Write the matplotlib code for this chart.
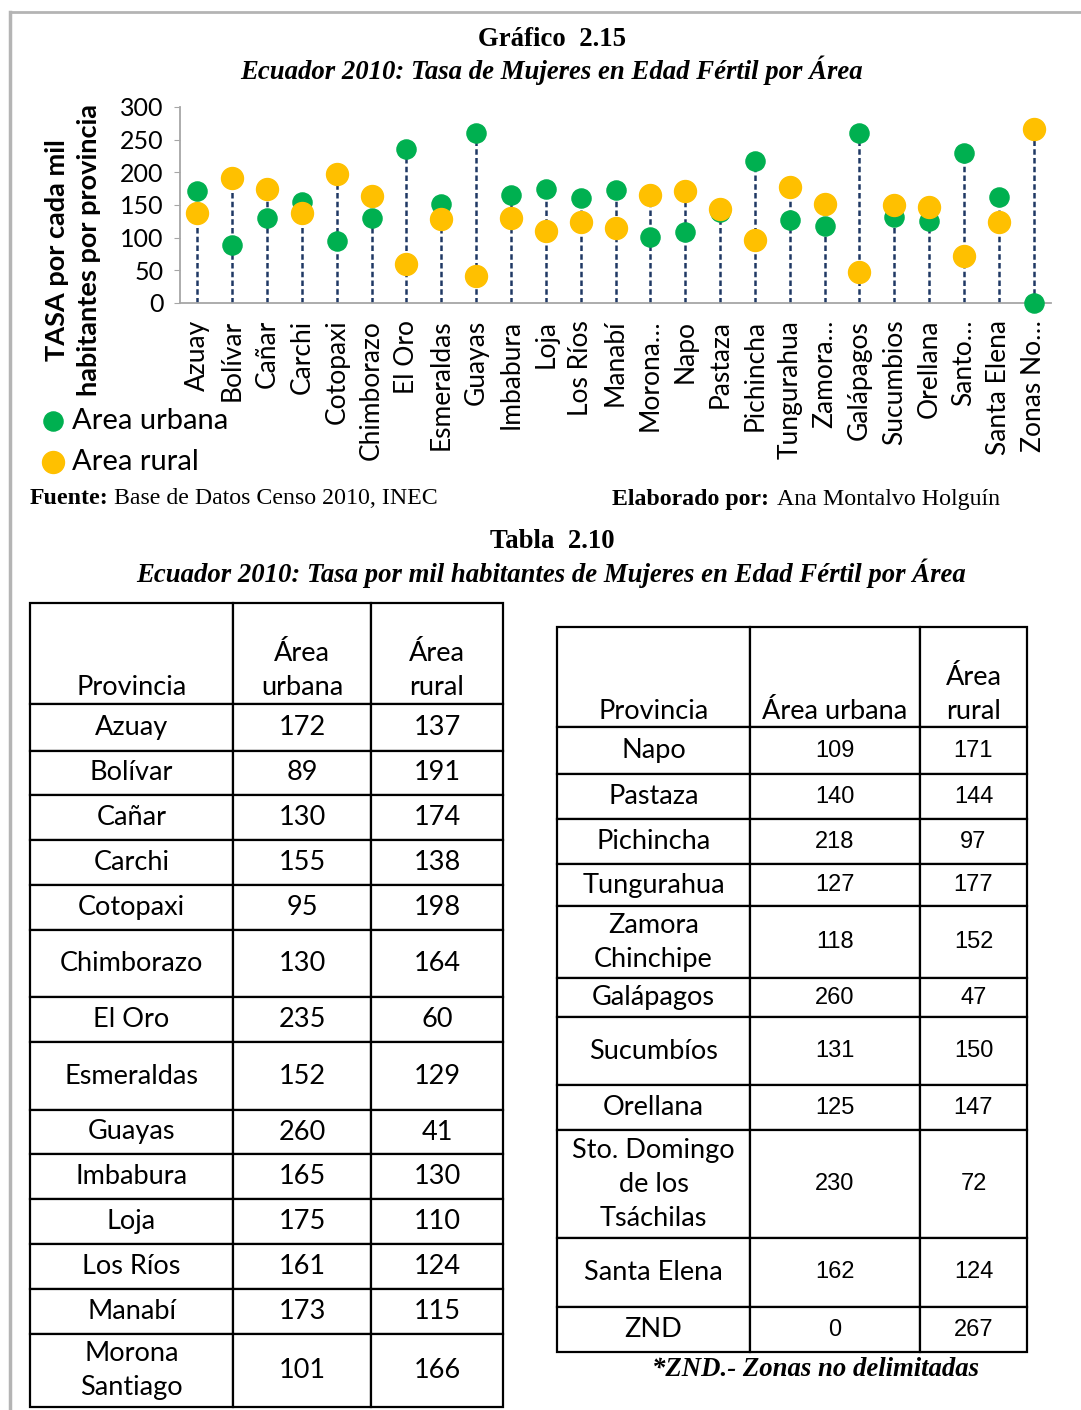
import matplotlib.pyplot as plt
from matplotlib.lines import Line2D

W, H = 1081, 1410

# datos (tasa por mil habitantes)
etiquetas = ["Azuay", "Bolívar", "Cañar", "Carchi", "Cotopaxi", "Chimborazo",
             "El Oro", "Esmeraldas", "Guayas", "Imbabura", "Loja", "Los Ríos",
             "Manabí", "Morona…", "Napo", "Pastaza", "Pichincha", "Tungurahua",
             "Zamora…", "Galápagos", "Sucumbios", "Orellana", "Santo…",
             "Santa Elena", "Zonas No…"]
urbana = [172, 89, 130, 155, 95, 130, 235, 152, 260, 165, 175, 161, 173,
          101, 109, 140, 218, 127, 118, 260, 131, 125, 230, 162, 0]
rural = [137, 191, 174, 138, 198, 164, 60, 129, 41, 130, 110, 124, 115,
         166, 171, 144, 97, 177, 152, 47, 150, 147, 72, 124, 267]
nombres_tabla = ["Azuay", "Bolívar", "Cañar", "Carchi", "Cotopaxi", "Chimborazo",
                 "El Oro", "Esmeraldas", "Guayas", "Imbabura", "Loja", "Los Ríos",
                 "Manabí", "Morona\nSantiago", "Napo", "Pastaza", "Pichincha",
                 "Tungurahua", "Zamora\nChinchipe", "Galápagos", "Sucumbíos",
                 "Orellana", "Sto. Domingo\nde los\nTsáchilas", "Santa Elena", "ZND"]

VERDE = "#00B050"
AMARILLO = "#FFC000"
GRIS = "#A6A6A6"
SANS = "Lato"
SERIF = "Liberation Serif"


def fx(x):
    return x / W


def fy(y):
    return 1 - y / H


fig = plt.figure(figsize=(W / 100, H / 100), dpi=100)

# marco gris de la pagina
fig.add_artist(Line2D([fx(10), 1], [fy(12), fy(12)], color="#B4B4B4", lw=2))
fig.add_artist(Line2D([fx(10), fx(10)], [fy(12), 0], color="#B4B4B4", lw=2.5))

# -----------------------------
# Grafico 2.15
# -----------------------------
ax = fig.add_axes([fx(180), fy(303), (1051 - 180) / W, 196 / H])
x = list(range(len(etiquetas)))
tope = [max(u, r) for u, r in zip(urbana, rural)]
ax.vlines(x, 0, tope, colors="#1F3864", linestyles=(0, (2.2, 1.3)), lw=1.8, zorder=1)
sc_u = ax.scatter(x, urbana, s=190, color=VERDE, zorder=3, clip_on=False, label="Area urbana")
sc_r = ax.scatter(x, rural, s=250, color=AMARILLO, zorder=4, clip_on=False, label="Area rural")

ax.set_xlim(-0.5, len(etiquetas) - 0.5)
ax.set_ylim(0, 300)
ax.set_yticks(range(0, 301, 50))
ax.set_xticks(x)
ax.set_xticklabels(etiquetas, rotation=90, fontsize=19, family=SANS, va="top")
for lab in ax.get_yticklabels():
    lab.set_fontsize(18)
    lab.set_family(SANS)
ax.tick_params(axis="y", length=4, color=GRIS, pad=8)
ax.tick_params(axis="x", length=0, pad=12)
for s in ["top", "right"]:
    ax.spines[s].set_visible(False)
for s in ["left", "bottom"]:
    ax.spines[s].set_color(GRIS)
    ax.spines[s].set_linewidth(1.3)

fig.text(fx(73), fy(250), "TASA por cada mil\nhabitantes por provincia", rotation=90,
         ha="center", va="center", multialignment="center", fontsize=19.5,
         fontweight="bold", family=SANS, linespacing=1.4)

fig.legend(handles=[sc_u, sc_r], loc="upper left", bbox_to_anchor=(fx(44), fy(408)),
           frameon=False, prop={"family": SANS, "size": 21}, handlelength=0.6,
           handletextpad=0.35, labelspacing=0.5, borderpad=0, borderaxespad=0,
           scatterpoints=1)

fig.text(0.511, fy(40), "Gráfico  2.15", ha="center", va="center",
         family=SERIF, fontweight="bold", fontsize=19.3)
fig.text(0.51, fy(70), "Ecuador 2010: Tasa de Mujeres en Edad Fértil por Área", ha="center",
         va="center", family=SERIF, fontweight="bold", style="italic", fontsize=19.3)

fig.text(fx(30), fy(499), "Fuente:", ha="left", va="center", family=SERIF,
         fontweight="bold", fontsize=17.2)
fig.text(fx(114), fy(499), "Base de Datos Censo 2010, INEC", ha="left", va="center",
         family=SERIF, fontsize=17.2)
fig.text(fx(612), fy(499), "Elaborado por:", ha="left", va="center", family=SERIF,
         fontweight="bold", fontsize=17.2)
fig.text(fx(777), fy(499), "Ana Montalvo Holguín", ha="left", va="center",
         family=SERIF, fontsize=17.2)

# -----------------------------
# Tabla 2.10
# -----------------------------
fig.text(0.511, fy(541), "Tabla  2.10", ha="center", va="center",
         family=SERIF, fontweight="bold", fontsize=19.3)
fig.text(0.51, fy(573), "Ecuador 2010: Tasa por mil habitantes de Mujeres en Edad Fértil por Área",
         ha="center", va="center", family=SERIF, fontweight="bold", style="italic", fontsize=19.3)

tab_ax = fig.add_axes([0, 0, 1, 1])
tab_ax.set_axis_off()
tab_ax.set_xlim(0, 1)
tab_ax.set_ylim(0, 1)


def tabla(nombres, urb, rur, header, col_w, row_h, left, top, num_family):
    cells = [header] + [[n, str(u), str(r)] for n, u, r in zip(nombres, urb, rur)]
    tw, th = sum(col_w), sum(row_h)
    t = tab_ax.table(cellText=cells, cellLoc="center",
                     bbox=[fx(left), fy(top + th), tw / W, th / H])
    t.auto_set_font_size(False)
    for (r, c), cell in t.get_celld().items():
        cell.set_width(col_w[c] / W)
        cell.set_height(row_h[r] / H)
        cell.set_linewidth(1.6)
        cell.set_edgecolor("black")
        txt = cell.get_text()
        txt.set_fontsize(19.5)
        txt.set_family(SANS)
        txt.set_linespacing(1.45)
        if r > 0 and c > 0:
            txt.set_family(num_family)
            if num_family != SANS:
                txt.set_fontsize(17)
    return t


n_izq = 14
tabla(nombres_tabla[:n_izq], urbana[:n_izq], rural[:n_izq],
      ["\n\nProvincia", "\nÁrea\nurbana", "\nÁrea\nrural"],
      [203, 138, 132],
      [101, 47, 44, 45, 45, 45, 67, 45, 68, 44, 45, 45, 45, 45, 73],
      30, 603, SANS)
tabla(nombres_tabla[n_izq:], urbana[n_izq:], rural[n_izq:],
      ["\n\nProvincia", "\n\nÁrea urbana", "\nÁrea\nrural"],
      [193, 170, 107],
      [100, 47, 45, 45, 42, 72, 39, 68, 45, 108, 69, 45],
      557, 627, "Liberation Sans")

fig.text(fx(815), fy(1369), "*ZND.- Zonas no delimitadas", ha="center", va="center",
         family=SERIF, fontweight="bold", style="italic", fontsize=19.3)

fig.savefig("out.png", dpi=100)
